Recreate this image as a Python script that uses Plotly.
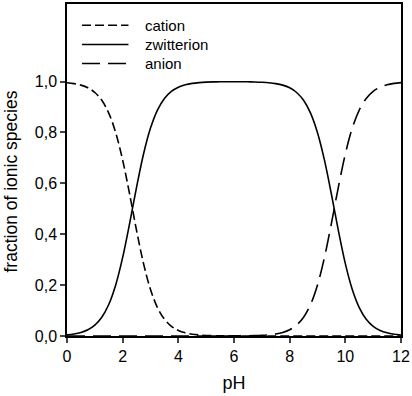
import plotly.graph_objects as go

pH = [0, 0.25, 0.5, 0.75, 1.0, 1.25, 1.5, 1.75, 2.0, 2.25, 2.5, 2.75, 3.0, 3.25, 3.5, 3.75,
      4.0, 4.25, 4.5, 4.75, 5.0, 5.25, 5.5, 5.75, 6.0, 6.25, 6.5, 6.75, 7.0, 7.25, 7.5, 7.75,
      8.0, 8.25, 8.5, 8.75, 9.0, 9.25, 9.5, 9.75, 10.0, 10.25, 10.5, 10.75, 11.0, 11.25, 11.5,
      11.75, 12.0]

cation = [0.9956, 0.9921, 0.9861, 0.9755, 0.9572, 0.9264, 0.8762, 0.7992, 0.6912, 0.5573,
          0.4145, 0.2847, 0.1829, 0.1118, 0.0661, 0.0383, 0.0219, 0.0124, 0.0070, 0.0040,
          0.0022, 0.0013, 0.0007, 0.0004, 0.0002, 0.0001, 0.0001, 0, 0, 0, 0, 0,
          0, 0, 0, 0, 0, 0, 0, 0, 0, 0, 0, 0, 0, 0, 0, 0, 0]

zwitterion = [0.0044, 0.0079, 0.0139, 0.0245, 0.0428, 0.0736, 0.1238, 0.2008, 0.3088, 0.4427,
              0.5855, 0.7153, 0.8171, 0.8882, 0.9339, 0.9617, 0.9781, 0.9876, 0.9930, 0.9960,
              0.9978, 0.9987, 0.9992, 0.9995, 0.9995, 0.9995, 0.9991, 0.9986, 0.9975, 0.9956,
              0.9921, 0.9861, 0.9755, 0.9572, 0.9264, 0.8762, 0.7992, 0.6912, 0.5573, 0.4145,
              0.2847, 0.1829, 0.1118, 0.0661, 0.0383, 0.0219, 0.0124, 0.0070, 0.0040]

anion = [0, 0, 0, 0, 0, 0, 0, 0, 0, 0, 0, 0, 0, 0, 0, 0, 0, 0, 0, 0,
         0, 0, 0.0001, 0.0001, 0.0003, 0.0004, 0.0008, 0.0014, 0.0025, 0.0044, 0.0079, 0.0139,
         0.0245, 0.0428, 0.0736, 0.1238, 0.2008, 0.3088, 0.4427, 0.5855, 0.7153, 0.8171,
         0.8882, 0.9339, 0.9617, 0.9781, 0.9876, 0.9930, 0.9960]

series_names = ["cation", "zwitterion", "anion"]
y_ticks = [0, 0.2, 0.4, 0.6, 0.8, 1.0]
y_ticklabels = ["0,0", "0,2", "0,4", "0,6", "0,8", "1,0"]
x_ticks = [0, 2, 4, 6, 8, 10, 12]

FONT = "Arial, Liberation Sans, sans-serif"
dashes = ["9px,4px", "solid", "18px,8px"]

fig = go.Figure()
for name, vals, dash in zip(series_names, [cation, zwitterion, anion], dashes):
    fig.add_trace(go.Scatter(x=pH, y=vals, mode="lines", name=name, line_shape="spline",
                             showlegend=False,
                             line=dict(color="black", width=1.6, dash=dash)))

# manual legend (longer sample lines than plotly's fixed 30px)
shapes = []
annotations = []
legend_rows_y = [0.936, 0.878, 0.821]
for name, dash, ly in zip(series_names, dashes, legend_rows_y):
    shapes.append(dict(type="line", xref="paper", yref="paper", x0=0.045, x1=0.184, y0=ly, y1=ly,
                       line=dict(color="black", width=1.6, dash=dash)))
    annotations.append(dict(text=name, xref="paper", yref="paper", x=0.229, y=ly,
                            xanchor="left", yanchor="middle", showarrow=False,
                            font=dict(size=15)))

annotations.append(dict(text="fraction of ionic species", textangle=-90, xref="paper", yref="paper",
                        x=-0.167, y=0.466, xanchor="center", yanchor="middle", showarrow=False,
                        font=dict(size=17.5)))

fig.update_layout(
    width=412, height=396,
    margin=dict(l=67, r=10, t=2, b=60),
    paper_bgcolor="white", plot_bgcolor="white",
    font=dict(family=FONT, size=16, color="black"),
    showlegend=False,
    xaxis=dict(range=[0, 12], tickvals=x_ticks, ticks="outside", ticklen=5, tickwidth=1.5,
               showline=True, linecolor="black", linewidth=1.5, mirror=True, showgrid=False,
               zeroline=False, tickfont=dict(size=16),
               title=dict(text="pH", font=dict(size=18), standoff=12)),
    yaxis=dict(range=[0, 1.305], tickvals=y_ticks, ticktext=y_ticklabels, ticks="outside",
               ticklen=5, tickwidth=1.5, showline=True, linecolor="black", linewidth=1.5,
               mirror=True, showgrid=False, zeroline=False, tickfont=dict(size=16)),
    shapes=shapes,
    annotations=annotations,
)

fig.write_html("out.html", config={"displayModeBar": False},
               post_script="document.body.style.margin='0';")
